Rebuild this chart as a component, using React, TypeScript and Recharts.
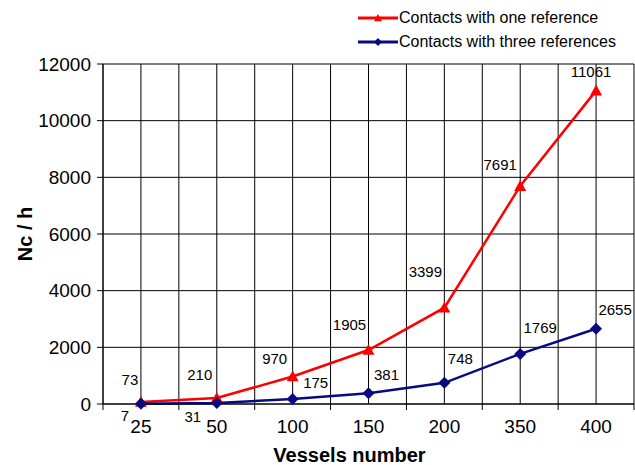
import React from 'react';
import {
  LineChart,
  Line,
  XAxis,
  YAxis,
  CartesianGrid,
  LabelList,
} from 'recharts';

const VESSELS = ['25', '50', '100', '150', '200', '350', '400'];
const ONE_REF = [73, 210, 970, 1905, 3399, 7691, 11061];
const THREE_REF = [7, 31, 175, 381, 748, 1769, 2655];
const Y_TICKS = [0, 2000, 4000, 6000, 8000, 10000, 12000];

const RED = '#ff0000';
const BLUE = '#0a0a80';
const FONT = '"Liberation Sans", Arial, sans-serif';

// where each value label sits relative to its point (text centre)
const RED_LABEL_OFFSETS = [[-11, -22], [-17, -24], [-18, -18], [-19, -26], [-19, -36], [-20, -22], [-5, -19]];
const BLUE_LABEL_OFFSETS = [[-16, 12], [-24, 13], [23, -17], [18, -19], [16, -24], [20, -26], [19, -19]];

const data = VESSELS.map((v, i) => ({
  pos: i + 0.5,
  name: v,
  one: ONE_REF[i],
  three: THREE_REF[i],
}));

const xTicks: number[] = [];
for (let i = 0; i <= VESSELS.length * 2; i++) xTicks.push(i / 2);

const Triangle = ({ cx, cy, size = 6 }: { cx: number; cy: number; size?: number }) => (
  <path
    d={`M${cx},${cy - size} L${cx + size},${cy + size * 0.8} L${cx - size},${cy + size * 0.8} Z`}
    fill={RED}
  />
);

const Diamond = ({ cx, cy, size = 6 }: { cx: number; cy: number; size?: number }) => (
  <path d={`M${cx},${cy - size} L${cx + size},${cy} L${cx},${cy + size} L${cx - size},${cy} Z`} fill={BLUE} />
);

const XTick = (props: any) => {
  const { x, y, payload } = props;
  const v = payload.value as number;
  if (Number.isInteger(v)) {
    return <line x1={x} x2={x} y1={y} y2={y + 6} stroke="#000" strokeWidth={1} />;
  }
  return (
    <text x={x} y={y + 29} textAnchor="middle" fontSize={19} fontFamily={FONT} fill="#000">
      {VESSELS[Math.floor(v)]}
    </text>
  );
};

const makeLabel = (offsets: number[][]) => (props: any) => {
  const { x, y, value, index } = props;
  const [dx, dy] = offsets[index] || [0, -15];
  return (
    <text
      x={x + dx}
      y={y + dy}
      textAnchor="middle"
      dominantBaseline="central"
      fontSize={15}
      fontFamily={FONT}
      fill="#000"
    >
      {value}
    </text>
  );
};

const LegendBox = () => (
  <div
    style={{
      position: 'absolute',
      left: 358,
      top: 6,
      fontFamily: FONT,
      fontSize: 16,
      color: '#000',
    }}
  >
    {[
      { label: 'Contacts with one reference', color: RED, kind: 'tri' },
      { label: 'Contacts with three references', color: BLUE, kind: 'dia' },
    ].map((item) => (
      <div key={item.label} style={{ display: 'flex', alignItems: 'center', height: 24 }}>
        <svg width={41} height={14} style={{ display: 'block' }}>
          <line x1={0} x2={40} y1={7} y2={7} stroke={item.color} strokeWidth={3} />
          {item.kind === 'tri' ? <Triangle cx={20} cy={7} size={4} /> : <Diamond cx={20} cy={7} size={4} />}
        </svg>
        <span style={{ whiteSpace: 'nowrap' }}>{item.label}</span>
      </div>
    ))}
  </div>
);

export default function App() {
  return (
    <div style={{ position: 'absolute', left: 0, top: 0, width: 635, height: 465, background: '#fff' }}>
      <LineChart width={635} height={465} data={data} margin={{ top: 64, right: 1, left: 0, bottom: 0 }}>
        <CartesianGrid stroke="#000" strokeWidth={1} />
        <XAxis
          dataKey="pos"
          type="number"
          domain={[0, VESSELS.length]}
          ticks={xTicks}
          interval={0}
          tick={<XTick />}
          tickLine={false}
          tickSize={0}
          tickMargin={0}
          height={61}
          axisLine={{ stroke: '#000' }}
          label={({ viewBox }: any) => (
            <text
              x={viewBox.x + viewBox.width / 2 - 19}
              y={viewBox.y + 58}
              textAnchor="middle"
              fontSize={20}
              fontWeight="bold"
              fontFamily={FONT}
              fill="#000"
            >
              Vessels number
            </text>
          )}
        />
        <YAxis
          domain={[0, 12000]}
          ticks={Y_TICKS}
          interval={0}
          width={103}
          tickSize={6}
          tickMargin={6}
          axisLine={{ stroke: '#000' }}
          tickLine={{ stroke: '#000' }}
          tick={{ fontSize: 19, fontFamily: FONT, fill: '#000' }}
          label={{
            value: 'Nc / h',
            angle: -90,
            position: 'insideLeft',
            offset: 25,
            style: { textAnchor: 'middle', fontSize: 20, fontWeight: 'bold', fontFamily: FONT, fill: '#000' },
          }}
        />
        <Line
          type="linear"
          dataKey="one"
          stroke={RED}
          strokeWidth={2.5}
          dot={(p: any) => <Triangle key={`t${p.index}`} cx={p.cx} cy={p.cy} />}
          isAnimationActive={false}
        >
          <LabelList dataKey="one" content={makeLabel(RED_LABEL_OFFSETS)} />
        </Line>
        <Line
          type="linear"
          dataKey="three"
          stroke={BLUE}
          strokeWidth={2.5}
          dot={(p: any) => <Diamond key={`d${p.index}`} cx={p.cx} cy={p.cy} />}
          isAnimationActive={false}
        >
          <LabelList dataKey="three" content={makeLabel(BLUE_LABEL_OFFSETS)} />
        </Line>
      </LineChart>
      <LegendBox />
    </div>
  );
}
